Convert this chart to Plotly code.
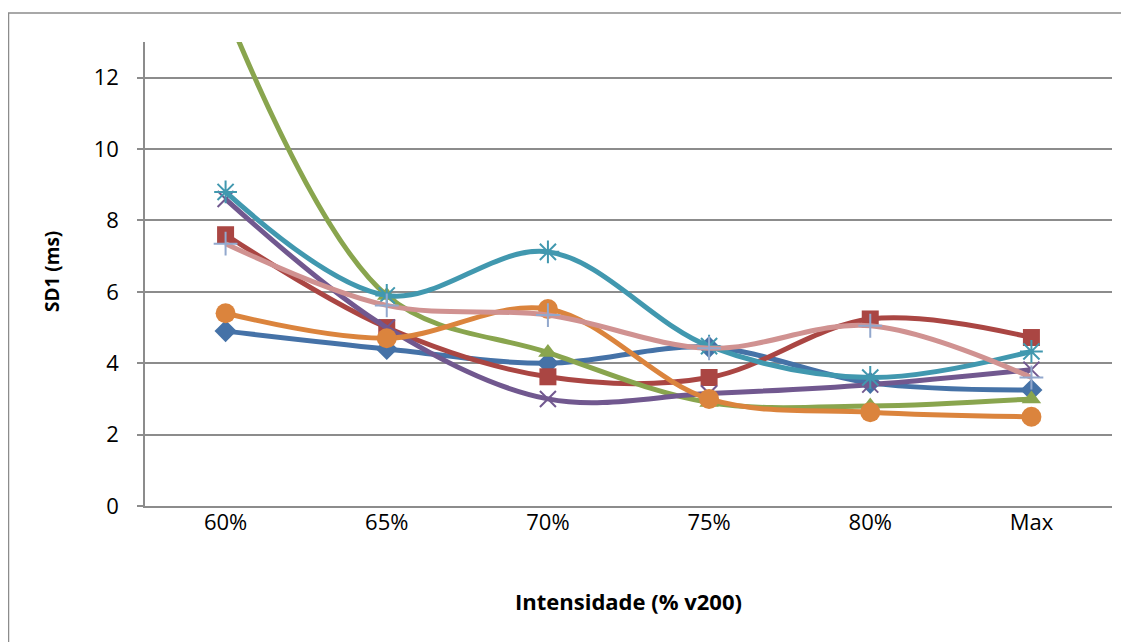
import plotly.graph_objects as go

categories = ["60%", "65%", "70%", "75%", "80%", "Max"]
s_blue = [4.9, 4.4, 4.0, 4.45, 3.45, 3.25]
s_red = [7.6, 5.0, 3.62, 3.6, 5.24, 4.72]
s_green = [13.9, 5.9, 4.3, 2.9, 2.8, 3.0]
s_purple = [8.6, 5.0, 3.0, 3.15, 3.4, 3.82]
s_teal = [8.8, 5.9, 7.12, 4.48, 3.6, 4.33]
s_orange = [5.4, 4.7, 5.52, 3.0, 2.63, 2.5]
s_pink = [7.35, 5.62, 5.35, 4.42, 5.05, 3.6]
y_ticks = [0, 2, 4, 6, 8, 10, 12]

FONT = "Open Sans"
GRID = "#8c8c8c"

# page has an 8px body offset; plot area target (page px): x 145-1112, y 42-506
OFF = 8
W, H = 1129 - OFF, 642 - OFF
L, T = 145 - OFF, 42 - OFF
R = W - (1112 - OFF)
B = H - (506 - OFF)
PW, PH = W - L - R, H - T - B

series = [
    (s_blue, "#4572A7", "diamond", 17, "#4572A7", 0),
    (s_red, "#AA4643", "square", 17, "#AA4643", 0),
    (s_green, "#89A54E", "triangle-up", 17, "#89A54E", 0),
    (s_purple, "#71588F", "x-thin-open", 16, "#71588F", 2),
    (s_teal, "#4198AF", "asterisk-open", 19, "#4198AF", 2),
    (s_orange, "#DB843D", "circle", 20, "#DB843D", 0),
    (s_pink, "#D09291", "cross-thin-open", 17, "#92A8CD", 2),
]

fig = go.Figure()
for vals, col, sym, size, mcol, mlw in series:
    fig.add_trace(go.Scatter(
        x=categories, y=vals, mode="lines+markers",
        line=dict(color=col, width=5, shape="spline", smoothing=1.0),
        marker=dict(symbol=sym, size=size, color=mcol,
                    line=dict(color=mcol, width=mlw)),
        cliponaxis=True, showlegend=False,
    ))

fig.update_layout(
    width=W, height=H,
    margin=dict(l=L, r=R, t=T, b=B),
    paper_bgcolor="white", plot_bgcolor="white",
    font=dict(family=FONT, size=20, color="black"),
    xaxis=dict(type="category", categoryorder="array", categoryarray=categories,
               range=[-0.5, 5.5], showgrid=False, zeroline=False,
               showline=True, linecolor=GRID, linewidth=1.5,
               ticks="", ticklabelstandoff=-4,
               tickfont=dict(family=FONT, size=22)),
    yaxis=dict(range=[0, 13], tickvals=y_ticks, showgrid=True, gridcolor=GRID,
               gridwidth=1.5, zeroline=False, showline=True, linecolor=GRID,
               linewidth=1.5, ticks="outside", ticklen=6, tickcolor=GRID,
               tickwidth=1.5, ticklabelstandoff=14,
               tickfont=dict(family=FONT, size=22)),
    shapes=[dict(type="rect", xref="paper", yref="paper",
                 x0=(0.5 - L) / PW, x1=1.2, y0=-0.6, y1=(PH + T - 5) / PH,
                 line=dict(color=GRID, width=1.5), layer="below")],
    annotations=[
        dict(text="<b>Intensidade (% v200)</b>", xref="paper", yref="paper",
             x=0.5, y=(PH + T - (601 - OFF)) / PH, showarrow=False,
             font=dict(family=FONT, size=22), xanchor="center", yanchor="middle"),
        dict(text="<b>SD1 (ms)</b>", xref="paper", yref="paper",
             x=((52 - OFF) - L) / PW, y=(PH + T - (272 - OFF)) / PH, textangle=-90,
             showarrow=False, font=dict(family=FONT, size=19),
             xanchor="center", yanchor="middle"),
    ],
)

fig.write_html("out.html")
